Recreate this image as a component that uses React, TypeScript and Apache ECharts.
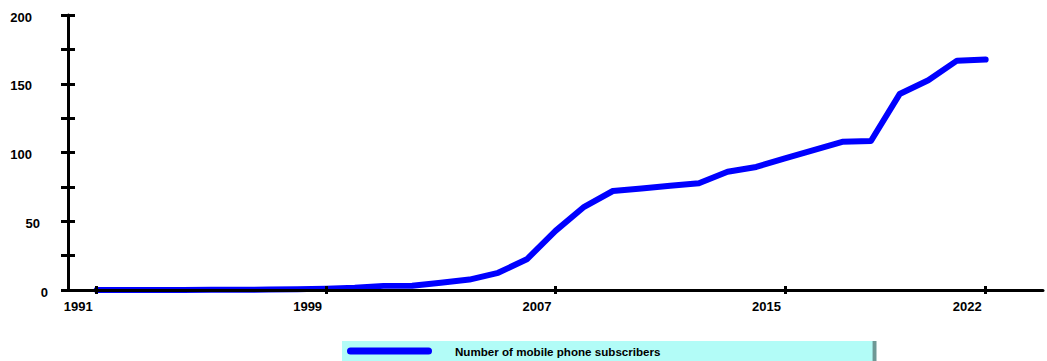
import React, { useEffect, useRef } from "react";
import * as echarts from "echarts";

const years = [
  "1990", "1991", "1992", "1993", "1994", "1995", "1996", "1997", "1998", "1999",
  "2000", "2001", "2002", "2003", "2004", "2005", "2006", "2007", "2008", "2009",
  "2010", "2011", "2012", "2013", "2014", "2015", "2016", "2017", "2018", "2019",
  "2020", "2021", "2022", "2023", "2024",
];

const dataYears = [
  "1991", "1992", "1993", "1994", "1995", "1996", "1997", "1998", "1999", "2000",
  "2001", "2002", "2003", "2004", "2005", "2006", "2007", "2008", "2009", "2010",
  "2011", "2012", "2013", "2014", "2015", "2016", "2017", "2018", "2019", "2020",
  "2021", "2022",
];

const subscribers = [
  0.01, 0.02, 0.03, 0.05, 0.1, 0.2, 0.3, 0.5, 1.0, 1.7,
  3.0, 3.1, 5.2, 7.6, 12.5, 22.3, 43.0, 60.5, 72.0, 73.8,
  75.8, 77.6, 86.0, 89.5, 95.8, 101.8, 107.8, 108.4, 142.5, 152.5,
  166.8, 167.6,
];

const tickYears = ["1991", "1999", "2007", "2015", "2022"];
const seriesName = "Number of mobile phone subscribers";

const FONT = '"Liberation Sans", Arial, sans-serif';
const PILL = "path://M3.5,0 L81.5,0 A3.5,3.5 0 0 1 81.5,7 L3.5,7 A3.5,3.5 0 0 1 3.5,0 Z";

export default function App() {
  const ref = useRef<HTMLDivElement>(null);

  useEffect(() => {
    document.body.style.margin = "0";
    if (!ref.current) return;
    const chart = echarts.init(ref.current, null, { renderer: "svg" });

    const lookup: Record<string, number> = {};
    dataYears.forEach((y, i) => (lookup[y] = subscribers[i]));
    const seriesData = years.map((y) => (y in lookup ? lookup[y] : null));

    const isTick = (_i: number, v: string) => tickYears.includes(v);

    const base = { fontSize: 13, fontWeight: "bold", fontFamily: FONT, color: "#000" };
    const labelRich = {
      d1: { ...base, padding: [4, 0, 0, 0] },
      d2: { ...base, padding: [4, 8, 0, 0] },
      d3: { ...base, padding: [4, 16, 0, 0] },
    };

    chart.setOption({
      animation: false,
      backgroundColor: "#ffffff",
      grid: { left: 68, right: 4, top: 15, bottom: 71, outerBoundsMode: "none" },
      xAxis: [
        {
          type: "category",
          data: years,
          boundaryGap: false,
          position: "bottom",
          z: 5,
          axisLine: { show: true, lineStyle: { color: "#000", width: 3 } },
          axisTick: { show: true, interval: isTick, length: 4, inside: false, lineStyle: { color: "#000", width: 3 } },
          axisLabel: {
            interval: isTick,
            align: "right",
            padding: [0, 4, 0, 0],
            margin: 10,
            ...base,
          },
          splitLine: { show: false },
        },
        {
          type: "category",
          data: years,
          boundaryGap: false,
          position: "bottom",
          z: 5,
          axisLine: { show: false },
          axisTick: { show: true, interval: isTick, length: 4, inside: true, lineStyle: { color: "#000", width: 3 } },
          axisLabel: { show: false },
          splitLine: { show: false },
        },
      ],
      yAxis: [
        {
          type: "value",
          min: 0,
          max: 200,
          interval: 25,
          position: "left",
          z: 5,
          axisLine: { show: true, lineStyle: { color: "#000", width: 3 } },
          axisTick: { show: true, length: 7, inside: false, lineStyle: { color: "#000", width: 3 } },
          axisLabel: {
            margin: 20,
            formatter: (v: number) => {
              if (v % 50 !== 0) return "";
              const s = String(v);
              return `{d${s.length}|${s}}`;
            },
            rich: labelRich,
            ...base,
          },
          splitLine: { show: false },
        },
        {
          type: "value",
          min: 0,
          max: 200,
          interval: 25,
          position: "left",
          z: 5,
          axisLine: { show: false },
          axisTick: { show: true, length: 7, inside: true, lineStyle: { color: "#000", width: 3 } },
          axisLabel: { show: false },
          splitLine: { show: false },
        },
      ],
      legend: {
        show: true,
        left: 342,
        top: 341,
        orient: "horizontal",
        data: [{ name: seriesName, icon: PILL }],
        backgroundColor: "#b2fcf7",
        shadowColor: "#6e9895",
        shadowOffsetX: 4,
        shadowOffsetY: 0,
        shadowBlur: 0,
        padding: [4, 212, 5, 5],
        itemWidth: 85,
        itemHeight: 7,
        itemStyle: { color: "#0000ff" },
        textStyle: {
          fontSize: 11.6,
          fontWeight: "bold",
          fontFamily: FONT,
          color: "#000",
          padding: [0, 0, 0, 18],
        },
      },
      series: [
        {
          name: seriesName,
          type: "line",
          xAxisIndex: 0,
          yAxisIndex: 0,
          data: seriesData,
          symbol: "none",
          connectNulls: false,
          z: 2,
          lineStyle: { color: "#0000ff", width: 6, cap: "round", join: "round" },
          itemStyle: { color: "#0000ff" },
        },
      ],
    });

    return () => chart.dispose();
  }, []);

  return <div ref={ref} style={{ width: 1047, height: 361 }} />;
}
